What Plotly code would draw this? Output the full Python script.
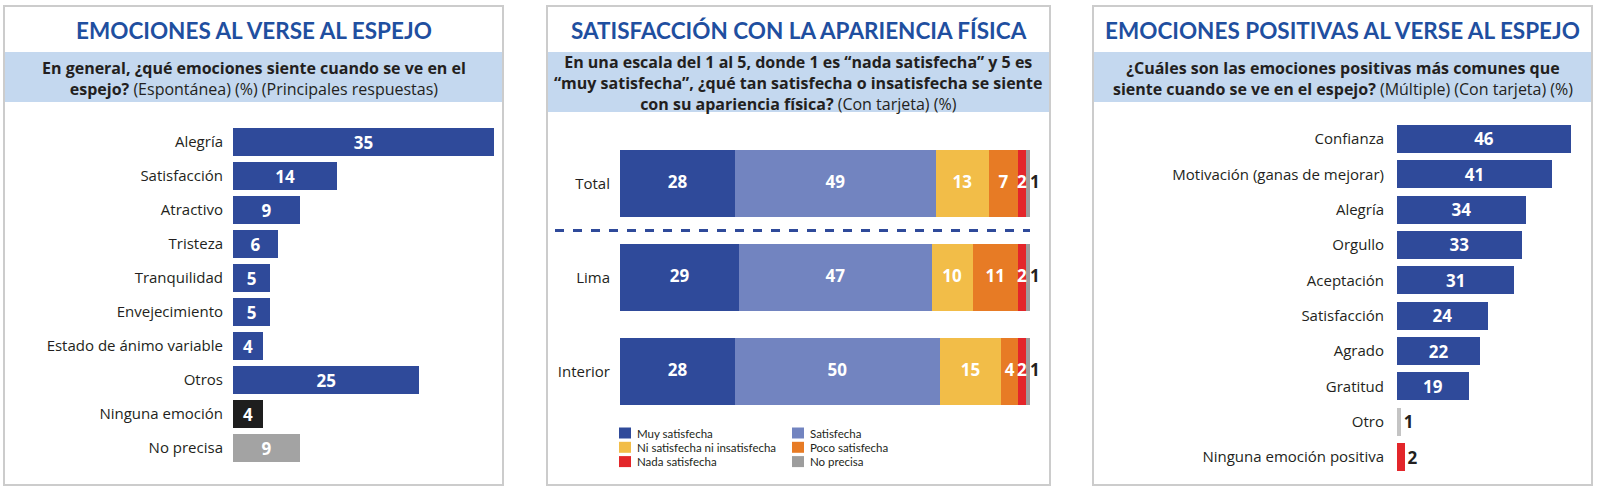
import plotly.graph_objects as go

W, H = 1617, 487

# ---------------- data ----------------
emo_labels = ["Alegría", "Satisfacción", "Atractivo", "Tristeza", "Tranquilidad",
              "Envejecimiento", "Estado de ánimo variable", "Otros",
              "Ninguna emoción", "No precisa"]
emo_values = [35, 14, 9, 6, 5, 5, 4, 25, 4, 9]

sat_groups = ["Total", "Lima", "Interior"]
sat_series = ["Muy satisfecha", "Satisfecha", "Ni satisfecha ni insatisfecha",
              "Poco satisfecha", "Nada satisfecha", "No precisa"]
sat_muy = [28, 29, 28]
sat_sat = [49, 47, 50]
sat_ni = [13, 10, 15]
sat_poco = [7, 11, 4]
sat_nada = [2, 2, 2]
sat_noprec = [1, 1, 1]

pos_labels = ["Confianza", "Motivación (ganas de mejorar)", "Alegría", "Orgullo",
              "Aceptación", "Satisfacción", "Agrado", "Gratitud", "Otro",
              "Ninguna emoción positiva"]
pos_values = [46, 41, 34, 33, 31, 24, 22, 19, 1, 2]

# ---------------- styles ----------------
BLUE = "#2f4a9a"
LIGHT = "#7284c0"
YELLOW = "#f2bd48"
ORANGE = "#e77b25"
RED = "#e3262a"
GRAY = "#9d9d9d"
TITLE = "#1f4fa0"
BAND = "#c4d8ef"
BORDER = "#cccccc"
TXT = "#231f20"
FONT = "Open Sans"
TFONT = "Lato"

emo_colors = [BLUE] * 8 + ["#1e1e1e", "#a3a3a3"]
pos_colors = [BLUE] * 8 + ["#c4c4c4", RED]
sat_colors = [BLUE, LIGHT, YELLOW, ORANGE, RED, GRAY]
VALFONT = dict(family=FONT, size=17, weight="bold")


def fx(px):
    return px / W


def fy(py):
    return 1 - py / H


fig = go.Figure()

# Panel 1
fig.add_trace(go.Bar(
    y=emo_labels, x=emo_values, orientation="h", xaxis="x", yaxis="y",
    marker=dict(color=emo_colors, line=dict(width=0)), width=0.82,
    text=[str(v) for v in emo_values], textposition="inside",
    insidetextanchor="middle", textangle=0, constraintext="none",
    textfont=dict(color="white", **VALFONT),
    hoverinfo="skip", showlegend=False))

# Panel 2 stacked
sat_data = [sat_muy, sat_sat, sat_ni, sat_poco, sat_nada, sat_noprec]
for name, vals, col in zip(sat_series, sat_data, sat_colors):
    fig.add_trace(go.Bar(
        y=sat_groups, x=vals, orientation="h", xaxis="x2", yaxis="y2",
        name=name, marker=dict(color=col, line=dict(width=0)), width=0.71,
        hoverinfo="skip", showlegend=False))

cum = [0, 0, 0]
for i, vals in enumerate(sat_data):
    mids = [c + v / 2 for c, v in zip(cum, vals)]
    ends = [c + v for c, v in zip(cum, vals)]
    last = i == len(sat_data) - 1
    fig.add_trace(go.Scatter(
        y=sat_groups, x=ends if last else mids, mode="text", xaxis="x2", yaxis="y2",
        text=[str(v) for v in vals],
        textposition="middle right" if last else "middle center",
        textfont=dict(color=TXT if last else "white", **VALFONT),
        hoverinfo="skip", showlegend=False, cliponaxis=False))
    cum = ends

# Panel 3
fig.add_trace(go.Bar(
    y=pos_labels, x=pos_values, orientation="h", xaxis="x3", yaxis="y3",
    marker=dict(color=pos_colors, line=dict(width=0)), width=0.79,
    text=[str(v) for v in pos_values],
    textposition=["inside"] * 8 + ["outside"] * 2,
    insidetextanchor="middle", textangle=0, constraintext="none",
    textfont=dict(color=["white"] * 8 + [TXT] * 2, **VALFONT),
    cliponaxis=False, hoverinfo="skip", showlegend=False))

hidden_x = dict(showgrid=False, zeroline=False, showticklabels=False, showline=False, ticks="")
ycat = dict(type="category", showgrid=False, zeroline=False, showline=False, ticks="",
            tickfont=dict(family=FONT, size=15, color=TXT))

fig.update_layout(
    width=W, height=H, margin=dict(l=0, r=0, t=0, b=0),
    paper_bgcolor="white", plot_bgcolor="rgba(0,0,0,0)",
    barmode="stack",
    xaxis=dict(domain=[fx(233), fx(494)], range=[0, max(emo_values)], anchor="y", **hidden_x),
    yaxis=dict(domain=[fy(465), fy(125)], range=[len(emo_labels) - 0.5, -0.5], anchor="x",
               ticklabelstandoff=9, **ycat),
    xaxis2=dict(domain=[fx(620), fx(1030)], range=[0, 100], anchor="y2", **hidden_x),
    yaxis2=dict(domain=[fy(418.5), fy(136.5)], range=[len(sat_groups) - 0.5, -0.5], anchor="x2",
                ticklabelstandoff=9, **ycat),
    xaxis3=dict(domain=[fx(1397), fx(1571)], range=[0, max(pos_values)], anchor="y3", **hidden_x),
    yaxis3=dict(domain=[fy(474.7), fy(121.3)], range=[len(pos_labels) - 0.5, -0.5], anchor="x3",
                ticklabelstandoff=12, **ycat),
)

shapes = []
annotations = []

panels = [
    (4, 503, 52, 102, "EMOCIONES AL VERSE AL ESPEJO",
     ["<b>En general, ¿qué emociones siente cuando se ve en el</b>",
      "<b>espejo?</b> (Espontánea) (%) (Principales respuestas)"]),
    (547, 1050, 52, 112, "SATISFACCIÓN CON LA APARIENCIA FÍSICA",
     ["<b>En una escala del 1 al 5, donde 1 es “nada satisfecha” y 5 es</b>",
      "<b>“muy satisfecha”, ¿qué tan satisfecha o insatisfecha se siente</b>",
      "<b>con su apariencia física?</b> (Con tarjeta) (%)"]),
    (1093, 1592, 52, 102, "EMOCIONES POSITIVAS AL VERSE AL ESPEJO",
     ["<b>¿Cuáles son las emociones positivas más comunes que</b>",
      "<b>siente cuando se ve en el espejo?</b> (Múltiple) (Con tarjeta) (%)"]),
]
for x0, x1, b0, b1, title, sub in panels:
    shapes.append(dict(type="rect", xref="paper", yref="paper", x0=fx(x0 + 1), x1=fx(x1),
                       y0=fy(b1), y1=fy(b0), fillcolor=BAND, line=dict(width=0), layer="below"))
    shapes.append(dict(type="rect", xref="paper", yref="paper", x0=fx(x0), x1=fx(x1),
                       y0=fy(485), y1=fy(6), line=dict(color=BORDER, width=2),
                       fillcolor="rgba(0,0,0,0)", layer="below"))
    cx = fx((x0 + x1) / 2)
    annotations.append(dict(xref="paper", yref="paper", x=cx, y=fy(30), text="<b>" + title + "</b>",
                            showarrow=False, xanchor="center", yanchor="middle",
                            font=dict(family=TFONT, size=22.5, color=TITLE, weight=900)))
    annotations.append(dict(xref="paper", yref="paper", x=cx, y=fy((b0 + b1) / 2 + 1),
                            text="<br>".join(sub),
                            showarrow=False, xanchor="center", yanchor="middle", align="center",
                            font=dict(family=FONT, size=16, color=TXT)))

# dashed separator in the middle panel
shapes.append(dict(type="line", xref="paper", yref="y2", x0=fx(555), x1=fx(1030), y0=0.5, y1=0.5,
                   line=dict(color=BLUE, width=3, dash="dash")))

# legend of the middle panel
for i, (name, col) in enumerate(zip(sat_series, sat_colors)):
    c, r = i % 2, i // 2
    lx = 619 + c * 173
    ly = 433 + r * 14.3
    shapes.append(dict(type="rect", xref="paper", yref="paper", x0=fx(lx), x1=fx(lx + 12),
                       y0=fy(ly + 5.5), y1=fy(ly - 5.5), fillcolor=col, line=dict(width=0)))
    annotations.append(dict(xref="paper", yref="paper", x=fx(lx + 16), y=fy(ly), text=name,
                            showarrow=False, xanchor="left", yanchor="middle",
                            font=dict(family=TFONT, size=11.5, color=TXT)))

fig.update_layout(shapes=shapes, annotations=annotations)
fig.write_html("out.html")
